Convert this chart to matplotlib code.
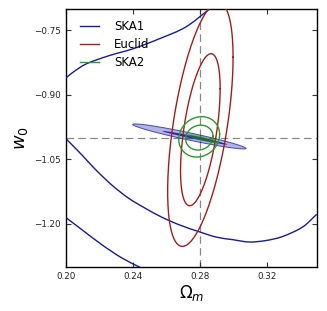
import numpy as np
import matplotlib
matplotlib.use("Agg")
import matplotlib.pyplot as plt
from matplotlib.lines import Line2D
from matplotlib.path import Path
from matplotlib.patches import PathPatch

# fiducial cosmology
om_fid = 0.28
w0_fid = -1.0

# SKA1 contours (only partly inside the window)
ska1_upper_om = [0.1998, 0.2042, 0.2122, 0.2261, 0.2400, 0.2559, 0.2715, 0.2858]
ska1_upper_w = [-0.8607, -0.8467, -0.8273, -0.8080, -0.7925, -0.7690, -0.7420, -0.7000]

ska1_lower_om = [0.2002, 0.2094, 0.2173, 0.2273, 0.2373, 0.2472, 0.2571, 0.2680,
                 0.2799, 0.2898, 0.2997, 0.3097, 0.3196, 0.3296, 0.3415, 0.3500]
ska1_lower_w = [-1.0036, -1.0400, -1.0730, -1.1100, -1.1405, -1.1637, -1.1845, -1.2030,
                -1.2190, -1.2310, -1.2370, -1.2425, -1.2390, -1.2296, -1.2077, -1.1780]

ska1_outer_om = [0.2002, 0.2094, 0.2213, 0.2333, 0.2442]
ska1_outer_w = [-1.1869, -1.2140, -1.2488, -1.2797, -1.3015]

# ellipses: centre om, centre w, half-width om, half-height w, correlation
euclid_ell = [
    (0.2803, -0.9810, 0.01187, 0.177, 0.54),
    (0.2803, -0.9687, 0.01960, 0.284, 0.55),
]
ska2_ell = [
    (0.2797, -0.9994, 0.00820, 0.029, 0.10),
    (0.2796, -0.9977, 0.01225, 0.047, 0.12),
]
comb_blue_ell = [
    (0.27365, -0.99665, 0.0339, 0.0292, -0.955),
    (0.2771, -0.9998, 0.0194, 0.0158, -0.980),
]
comb_green_ell = [
    (0.28165, -1.0017, 0.01075, 0.01160, -0.90),
    (0.28185, -1.0020, 0.00795, 0.00770, -0.94),
]

labels = ["SKA1", "Euclid", "SKA2"]
c_blue = "#1619A1"
c_red = "#A31D1D"
c_green = "#2A9A2A"


def ellipse_xy(cx, cy, a, b, rho, n=200):
    t = np.linspace(0, 2 * np.pi, n)
    x = cx + a * np.cos(t)
    y = cy + b * (rho * np.cos(t) + np.sqrt(1 - rho**2) * np.sin(t))
    return x, y


def smooth_path(xs, ys):
    # cubic bezier path through the read points (catmull-rom tangents)
    p = np.column_stack([xs, ys])
    ext = np.vstack([2 * p[0] - p[1], p, 2 * p[-1] - p[-2]])
    verts = [p[0]]
    codes = [Path.MOVETO]
    for i in range(1, len(ext) - 2):
        c1 = ext[i] + (ext[i + 1] - ext[i - 1]) / 6.0
        c2 = ext[i + 1] - (ext[i + 2] - ext[i]) / 6.0
        verts += [c1, c2, ext[i + 1]]
        codes += [Path.CURVE4] * 3
    return Path(verts, codes)


plt.rcParams['font.family'] = ['DejaVu Sans']
fig = plt.figure(figsize=(3.27, 3.11), dpi=100)
ax = fig.add_axes([0.2028, 0.1424, 0.7657, 0.8286])

# filled combined ellipses
x, y = ellipse_xy(*comb_blue_ell[0])
ax.fill(x, y, facecolor=c_blue, alpha=0.33, zorder=2)
ax.plot(x, y, color=c_blue, lw=0.7, alpha=0.75, zorder=2)
x, y = ellipse_xy(*comb_blue_ell[1])
ax.fill(x, y, facecolor=c_blue, alpha=0.9, lw=0, zorder=2)
x, y = ellipse_xy(*comb_green_ell[0])
ax.fill(x, y, facecolor=c_green, alpha=0.5, lw=0, zorder=4)
x, y = ellipse_xy(*comb_green_ell[1])
ax.fill(x, y, facecolor="#1E6E1E", alpha=0.9, lw=0, zorder=4)

# SKA1
for xs, ys in [(ska1_upper_om, ska1_upper_w), (ska1_lower_om, ska1_lower_w),
               (ska1_outer_om, ska1_outer_w)]:
    ax.add_patch(PathPatch(smooth_path(xs, ys), fill=False, edgecolor=c_blue,
                           lw=1.0, zorder=3))

# Euclid
for e in euclid_ell:
    x, y = ellipse_xy(*e)
    ax.plot(x, y, color=c_red, lw=1.0, zorder=3)

# SKA2
for e in ska2_ell:
    x, y = ellipse_xy(*e)
    ax.plot(x, y, color=c_green, lw=1.0, zorder=3)

# fiducial
ax.axvline(om_fid, color="#888888", ls=(0, (6, 3.5)), lw=0.9, zorder=1)
ax.axhline(w0_fid, color="#888888", ls=(0, (6, 3.5)), lw=0.9, zorder=1)

ax.set_xlim(0.20, 0.35)
ax.set_ylim(-1.30, -0.70)
ax.set_xticks([0.20, 0.24, 0.28, 0.32])
ax.set_yticks([-0.75, -0.90, -1.05, -1.20])
ax.set_xticklabels(["0.20", "0.24", "0.28", "0.32"])
ax.set_yticklabels(["\u22120.75", "\u22120.90", "\u22121.05", "\u22121.20"])
ax.tick_params(direction="in", length=3.5, width=0.8, labelsize=6.3, pad=4,
               top=True, right=True, colors="#333333", labelcolor="#222222")
for s in ax.spines.values():
    s.set_linewidth(1.0)

ax.set_xlabel(r"$\Omega_m$", fontsize=12, labelpad=1)
ax.set_ylabel(r"$w_0$", fontsize=13, labelpad=3)

handles = [Line2D([], [], color=c, lw=1.0) for c in (c_blue, c_red, c_green)]
ax.legend(handles, labels, loc="upper left", frameon=False, fontsize=8.5,
          handlelength=1.55, handletextpad=1.3, labelspacing=0.4,
          borderaxespad=0.5, bbox_to_anchor=(0.014, 0.997))

fig.savefig("out.png", dpi=100)
